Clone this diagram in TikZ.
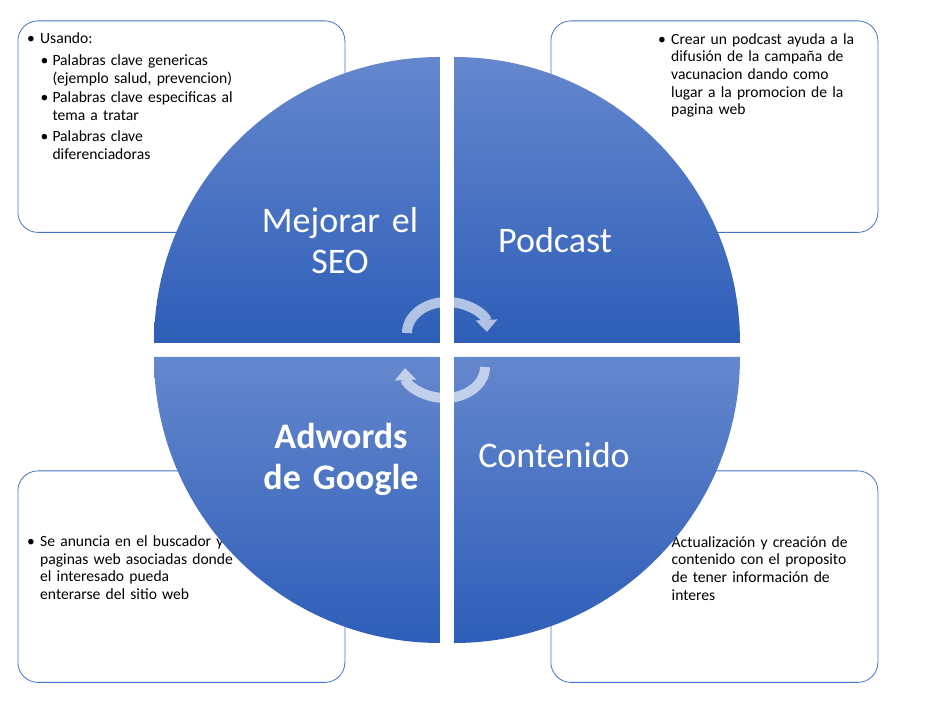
\documentclass[tikz,border=0pt]{standalone}
\usepackage{fontspec}
\setmainfont{Carlito}
\usetikzlibrary{arrows.meta}
\definecolor{qlight}{RGB}{101,135,205}
\definecolor{qdark}{RGB}{46,94,184}
\definecolor{boxline}{RGB}{68,114,196}
\begin{document}
\begin{tikzpicture}[x=1pt,y=1pt,
  infobox/.style={draw=boxline, line width=0.8pt, fill=white, rounded corners=20pt,
    minimum width=327pt, minimum height=211.5pt, anchor=north west, inner sep=0pt},
  quad/.style={top color=qlight, bottom color=qdark, draw=none},
  title/.style={text=white, font=\fontsize{36}{41}\selectfont, text width=260pt,
    align=center, anchor=base, inner sep=0pt},
  body/.style={font=\fontsize{15.6}{17.6}\selectfont, text width=240pt, align=left,
    anchor=base west, inner sep=0pt},
  dot/.style={font=\fontsize{15.6}{17.6}\selectfont, anchor=base, inner sep=0pt},
  cyc/.style={line width=10pt, white, -{Triangle[width=21pt,length=12pt]}}
]
\useasboundingbox (0,0) rectangle (927,708);

% boxes
\node[infobox] (boxTL) at (17.5,687.5) {};
\node[infobox] (boxTR) at (550.5,687.5) {};
\node[infobox] (boxBL) at (17.5,237.5) {};
\node[infobox] (boxBR) at (550.5,237.5) {};

% top-left text
\node[dot] (bTL0) at (31,664) {•};
\node[body] (tTL0) at (40,664) {Usando:};
\node[dot] (bTL1) at (44.5,642.3) {•};
\node[body] (tTL1) at (52.3,642.3) {Palabras clave genericas\\(ejemplo salud, prevencion)};
\node[dot] (bTL2) at (44.5,605) {•};
\node[body] (tTL2) at (52.3,605) {Palabras clave especificas al\\tema a tratar};
\node[dot] (bTL3) at (44.5,566.3) {•};
\node[body] (tTL3) at (52.3,566.3) {Palabras clave\\diferenciadoras};

% top-right text
\node[dot] (bTR) at (662,663.7) {•};
\node[body] (tTR) at (671,663.7) {Crear un podcast ayuda a la\\difusión de la campaña de\\vacunacion dando como\\lugar a la promocion de la\\pagina web};

% bottom-left text
\node[dot] (bBL) at (31,161.3) {•};
\node[body] (tBL) at (40,161.3) {Se anuncia en el buscador y\\paginas web asociadas donde\\el interesado pueda\\enterarse del sitio web};

% bottom-right text
\node[dot] (bBR) at (662,160.7) {•};
\node[body] (tBR) at (671.5,160.7) {Actualización y creación de\\contenido con el proposito\\de tener información de\\interes};

% quadrants
\coordinate (cTL) at (440,365);
\coordinate (cTR) at (454,365);
\coordinate (cBL) at (440,351);
\coordinate (cBR) at (454,351);
\path[quad] (cTL) -- ++(-286,0) arc[start angle=180,end angle=90,radius=286] -- cycle;
\path[quad] (cTR) -- ++(0,286) arc[start angle=90,end angle=0,radius=286] -- cycle;
\path[quad] (cBL) -- ++(0,-286) arc[start angle=270,end angle=180,radius=286] -- cycle;
\path[quad] (cBR) -- ++(286,0) arc[start angle=0,end angle=-90,radius=286] -- cycle;

% titles
\node[title] (qSEO) at (340,475.7) {Mejorar el\\SEO};
\node[title] (qPod) at (555,455.7) {Podcast};
\node[title, font=\fontsize{36}{41}\selectfont\bfseries] (qAdw) at (341,259.7) {Adwords\\de Google};
\node[title] (qCon) at (554,240) {Contenido};

% cycle arrows
\coordinate (cyU) at (447,375);
\coordinate (cyD) at (445,341);
\begin{scope}[transparency group, opacity=0.62]
\draw[cyc] (cyU) ++(180:40 and 31) arc[start angle=180,end angle=2,x radius=40,y radius=31];
\end{scope}
\begin{scope}[transparency group, opacity=0.62]
\draw[cyc] (cyD) ++(0:40 and 31) arc[start angle=0,end angle=-178,x radius=40,y radius=31];
\end{scope}
\end{tikzpicture}
\end{document}
